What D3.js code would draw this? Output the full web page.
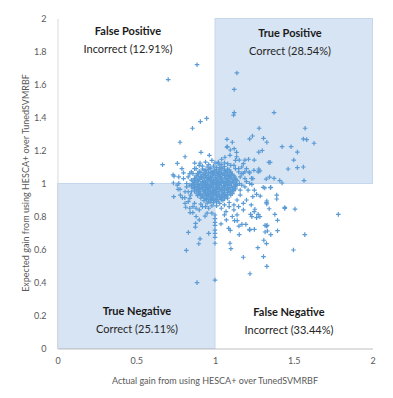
<!DOCTYPE html>
<html>
<head>
<meta charset="utf-8">
<script src="https://cdn.jsdelivr.net/npm/d3@7"></script>
<style>
  body { margin: 0; background: #fff; }
  svg { display: block; font-family: Lato, "Open Sans", sans-serif; }
</style>
</head>
<body>
<svg id="chart" width="393" height="398"></svg>
<script>
// axis ticks
var xTicks = [0, 0.5, 1, 1.5, 2];
var yTicks = [0, 0.2, 0.4, 0.6, 0.8, 1, 1.2, 1.4, 1.6, 1.8, 2];

// quadrants
var quadrants = [
  { name: "False Positive", note: "Incorrect (12.91%)", x0: 0, x1: 1, y0: 1, y1: 2, shaded: false },
  { name: "True Positive", note: "Correct (28.54%)", x0: 1, x1: 2, y0: 1, y1: 2, shaded: true },
  { name: "True Negative", note: "Correct (25.11%)", x0: 0, x1: 1, y0: 0, y1: 1, shaded: true },
  { name: "False Negative", note: "Incorrect (33.44%)", x0: 1, x1: 2, y0: 0, y1: 1, shaded: false }
];

// dense middle of the cloud (actual gain, expected gain)
var core = [
  [0.95,1.10],[0.99,1.105],[1.03,1.098],[1.06,1.103],
  [0.92,1.088],[0.97,1.092],[1.01,1.086],[1.04,1.091],[1.08,1.087],
  [0.90,1.074],[0.94,1.078],[0.98,1.072],[1.00,1.077],[1.03,1.073],[1.07,1.076],[1.10,1.071],
  [0.89,1.061],[0.93,1.058],[0.96,1.063],[0.99,1.057],[1.02,1.062],[1.05,1.059],[1.08,1.064],[1.11,1.056],
  [0.88,1.046],[0.91,1.043],[0.94,1.048],[0.97,1.044],[1.00,1.047],[1.03,1.042],[1.06,1.049],[1.09,1.044],[1.12,1.047],
  [0.87,1.031],[0.90,1.028],[0.93,1.033],[0.96,1.029],[0.98,1.034],[1.01,1.027],[1.04,1.032],[1.07,1.03],[1.10,1.033],[1.13,1.028],
  [0.86,1.014],[0.89,1.017],[0.92,1.012],[0.95,1.016],[0.98,1.013],[1.00,1.018],[1.03,1.014],[1.05,1.011],[1.08,1.016],[1.11,1.013],[1.14,1.017],
  [0.86,0.999],[0.88,1.003],[0.91,0.998],[0.94,1.002],[0.97,0.997],[0.99,1.001],[1.02,0.998],[1.04,1.003],[1.07,0.999],[1.10,1.002],[1.13,0.998],
  [0.85,0.986],[0.88,0.983],[0.90,0.988],[0.93,0.984],[0.96,0.987],[0.98,0.982],[1.01,0.986],[1.03,0.989],[1.06,0.984],[1.09,0.987],[1.12,0.983],[1.14,0.988],
  [0.86,0.971],[0.89,0.968],[0.92,0.973],[0.95,0.969],[0.97,0.972],[1.00,0.967],[1.02,0.971],[1.05,0.974],[1.08,0.969],[1.11,0.972],[1.13,0.967],
  [0.87,0.956],[0.90,0.953],[0.93,0.958],[0.96,0.954],[0.99,0.957],[1.01,0.952],[1.04,0.956],[1.07,0.959],[1.10,0.954],[1.12,0.957],
  [0.88,0.941],[0.91,0.938],[0.94,0.943],[0.97,0.939],[1.00,0.942],[1.03,0.937],[1.06,0.941],[1.09,0.944],[1.11,0.939],
  [0.89,0.926],[0.92,0.923],[0.95,0.928],[0.98,0.924],[1.01,0.927],[1.04,0.922],[1.07,0.926],[1.10,0.929],
  [0.91,0.911],[0.94,0.908],[0.97,0.913],[1.00,0.909],[1.03,0.912],[1.06,0.907],[1.08,0.911],
  [0.93,0.896],[0.96,0.893],[0.99,0.898],[1.02,0.894],[1.05,0.897],
  [0.95,0.881],[0.99,0.884],[1.03,0.879],
  [0.965,1.025],[1.015,1.005],[0.935,0.995],[1.045,0.965],[0.985,0.945],[1.025,1.055],[0.915,1.035],[1.075,1.015],
  [0.945,0.975],[1.055,0.935],[0.995,1.065],[1.085,1.045],[0.905,0.965],[1.035,0.915],[0.975,0.905],[1.065,0.995]
];

// points sitting between the core rows
var coreFill = [
  [0.97,1.095],[1.01,1.097],[1.05,1.094],
  [0.93,1.082],[0.96,1.084],[0.995,1.081],[1.025,1.083],[1.06,1.08],[1.09,1.083],
  [0.91,1.067],[0.945,1.069],[0.975,1.066],[1.01,1.068],[1.04,1.065],[1.065,1.069],[1.095,1.066],
  [0.895,1.052],[0.925,1.054],[0.955,1.051],[0.985,1.053],[1.015,1.05],[1.045,1.054],[1.075,1.052],[1.105,1.05],
  [0.885,1.038],[0.915,1.04],[0.945,1.037],[0.975,1.039],[1.005,1.036],[1.035,1.04],[1.065,1.038],[1.095,1.036],[1.125,1.039],
  [0.875,1.022],[0.905,1.024],[0.935,1.021],[0.97,1.023],[0.99,1.02],[1.02,1.024],[1.05,1.022],[1.085,1.021],[1.115,1.024],[1.135,1.02],
  [0.87,1.007],[0.895,1.009],[0.925,1.006],[0.955,1.008],[0.985,1.005],[1.01,1.009],[1.04,1.007],[1.06,1.005],[1.09,1.008],[1.12,1.006],
  [0.865,0.992],[0.89,0.994],[0.92,0.991],[0.95,0.993],[0.975,0.99],[1.005,0.994],[1.03,0.992],[1.055,0.99],[1.08,0.993],[1.105,0.991],[1.135,0.994],
  [0.87,0.977],[0.895,0.979],[0.915,0.976],[0.94,0.978],[0.965,0.975],[0.99,0.979],[1.015,0.977],[1.04,0.975],[1.07,0.978],[1.095,0.976],[1.125,0.979],
  [0.88,0.962],[0.905,0.964],[0.935,0.961],[0.96,0.963],[0.985,0.96],[1.005,0.964],[1.03,0.962],[1.06,0.96],[1.085,0.963],[1.115,0.961],
  [0.895,0.948],[0.925,0.95],[0.95,0.947],[0.975,0.949],[1.005,0.946],[1.02,0.95],[1.05,0.948],[1.08,0.946],[1.10,0.949],
  [0.905,0.933],[0.935,0.935],[0.96,0.932],[0.99,0.934],[1.02,0.931],[1.05,0.935],[1.08,0.933],
  [0.925,0.918],[0.955,0.92],[0.985,0.917],[1.015,0.919],[1.045,0.916],[1.07,0.92],
  [0.945,0.903],[0.975,0.905],[1.01,0.902],[1.04,0.904],
  [0.97,0.888],[1.01,0.89]
];

// sparser ring round the middle
var ring = [
  [0.911,1.189],[0.964,1.171],[0.871,1.124],[0.905,1.124],[0.80,1.065],[0.74,1.045],[0.736,1.003],
  [0.77,1.001],[0.738,0.92],[0.766,0.965],[0.778,0.965],[0.793,0.914],[0.808,0.914],[0.814,0.856],
  [0.842,0.824],[0.859,0.824],[0.937,0.802],[1.038,0.755],[1.072,0.779],[1.087,0.728],[1.124,0.775],
  [1.141,0.775],[1.152,0.742],[1.22,0.718],[1.226,0.813],[1.249,0.829],[1.274,0.813],[1.285,0.799],
  [1.327,0.742],[1.333,0.712],[1.38,0.813],[1.443,0.849],[1.327,0.884],[1.24,0.92],[1.264,0.934],
  [1.287,0.924],[1.316,0.973],[1.352,0.975],[1.20,1.011],[1.234,0.995],[1.18,1.062],[1.217,1.07],
  [1.247,1.08],[1.285,1.076],[1.342,1.128],[1.095,1.171],[1.137,1.162],[1.154,1.142],[1.19,1.142],
  [1.213,1.147],[1.249,1.142],[1.021,1.13],[1.042,1.147],[1.063,1.159],[1.078,1.223],[1.097,1.203],
  [1.137,1.189],[1.16,1.04],[1.17,0.99],[1.16,0.93],[1.18,0.88],[1.15,0.86],[1.12,0.84],[1.09,0.86],
  [1.07,0.83],[1.04,0.85],[0.96,0.85],[0.92,0.86],[0.90,0.84],[0.87,0.88],[0.84,0.91],[0.83,0.95],
  [0.82,1.00],[0.83,1.04],[0.85,1.07],[0.87,1.09],[0.90,1.11],[0.94,1.13],[0.98,1.14],[1.02,1.12],
  [1.06,1.125],[1.10,1.11],[1.13,1.09],[1.15,1.07],[1.19,1.03],[1.21,0.96],[1.20,0.90],[1.14,0.81],
  [1.11,0.80],[0.95,0.82],[0.88,0.80],[0.81,0.95],[0.80,1.03],[1.17,1.10],[1.24,1.03],[1.23,0.87],
  [0.84,1.06],[0.82,0.98],[0.845,0.93],[0.83,0.89],[0.86,0.86],[0.88,0.85],[0.91,0.875],[0.94,0.86],
  [0.98,0.865],[1.01,0.865],[1.06,0.87],[1.09,0.885],[1.12,0.87],[1.14,0.9],[1.16,0.96],[1.155,1.0],
  [1.17,1.06],[1.15,1.09],[1.12,1.11],[1.08,1.12],[1.04,1.115],[1.00,1.125],[0.96,1.115],[0.92,1.105],
  [0.88,1.09],[0.86,1.06],[0.85,1.02],[0.84,0.99],[0.85,0.95],[0.79,1.09],[0.77,1.04],[0.76,0.99],
  [0.78,0.93],[0.81,0.88],[0.84,0.85],[1.19,0.98],[1.22,1.0],[1.20,1.09],[1.18,1.12],[1.13,1.14],
  [1.25,0.96],[1.18,0.84],[1.06,0.81],[0.98,0.82],[0.9,0.78]
];

// scattered outliers
var outliers = [
  [0.886,1.72],[0.703,1.63],[0.947,1.395],[0.907,1.375],[0.857,1.335],[0.778,1.25],[1.139,1.67],
  [1.122,1.57],[1.122,1.43],[1.118,1.415],[1.28,1.335],[1.076,1.268],[1.11,1.25],[1.22,1.27],
  [1.238,1.288],[1.076,1.221],[1.122,1.211],[1.375,1.43],[1.572,1.335],[1.308,1.274],[1.329,1.25],
  [1.561,1.27],[1.582,1.266],[1.629,1.244],[1.426,1.223],[1.483,1.223],[1.523,1.19],[1.278,1.19],
  [1.30,1.20],[1.50,1.142],[1.35,1.128],[1.464,1.088],[1.523,1.096],[1.561,1.10],[1.274,1.071],
  [1.278,1.088],[1.346,1.039],[1.375,1.031],[1.325,1.027],[1.411,1.018],[1.426,1.003],[1.565,1.018],
  [1.22,1.064],[1.232,1.031],[1.19,1.071],[1.306,0.977],[1.354,0.977],[1.392,0.93],[1.392,0.906],
  [1.329,0.894],[1.329,0.876],[1.443,0.855],[1.508,0.845],[1.344,0.847],[1.783,0.813],[1.57,0.69],
  [1.498,0.597],[1.329,0.498],[1.222,0.453],[1.18,0.553],[1.308,0.557],[1.272,0.611],[1.095,0.638],
  [1.101,0.605],[1.31,0.656],[1.327,0.636],[1.397,0.714],[1.354,0.69],[1.318,0.706],[1.318,0.746],
  [1.331,0.746],[1.397,0.777],[1.154,0.69],[1.097,0.716],[1.0,0.809],[1.0,0.787],[1.0,0.765],
  [1.0,0.746],[1.0,0.718],[1.0,0.698],[1.0,0.674],[1.0,0.638],[1.0,0.415],[0.886,0.399],[0.818,0.595],
  [0.831,0.704],[0.875,0.736],[0.905,0.665],[0.897,0.635],[0.96,0.698],[1.253,0.844],[1.22,0.722],
  [1.25,0.722],[1.171,0.752],[1.196,0.752],[1.234,0.799],[1.264,0.793],[0.60,1.0],[0.667,1.114],
  [0.761,1.122],[0.81,1.162],[0.734,1.052],[0.877,0.758]
];

var points = core.concat(coreFill, ring, outliers);

var svg = d3.select("#chart");

var x = d3.scaleLinear().domain([0, 2]).range([57.5, 372.5]);
var y = d3.scaleLinear().domain([0, 2]).range([348.5, 18.5]);

// shaded quadrants
svg.append("g")
  .selectAll("rect")
  .data(quadrants.filter(d => d.shaded))
  .enter()
  .append("rect")
  .attr("x", d => x(d.x0))
  .attr("y", d => y(d.y1))
  .attr("width", d => x(d.x1) - x(d.x0))
  .attr("height", d => y(d.y0) - y(d.y1))
  .attr("fill", "#d7e4f3")
  .attr("stroke", "#c5d7ec")
  .attr("stroke-width", 1);

// axes
var xAxis = svg.append("g")
  .attr("transform", "translate(0," + y(0) + ")")
  .call(d3.axisBottom(x).tickValues(xTicks).tickSize(0).tickPadding(9).tickFormat(d3.format("")));
xAxis.select(".domain").attr("stroke", "#bfbfbf");

var yAxis = svg.append("g")
  .attr("transform", "translate(" + x(0) + ",0)")
  .call(d3.axisLeft(y).tickValues(yTicks).tickSize(0).tickPadding(11).tickFormat(d3.format("")));
yAxis.select(".domain").attr("stroke", "#d9d9d9");

svg.selectAll(".tick text")
  .attr("fill", "#595959")
  .style("font-size", "9px")
  .style("font-family", "Lato, sans-serif");

// points as plus markers
svg.append("g")
  .selectAll("path")
  .data(points)
  .enter()
  .append("path")
  .attr("d", d => {
    let px = x(d[0]), py = y(d[1]);
    return "M" + (px - 2.3) + "," + py + "H" + (px + 2.3) + "M" + px + "," + (py - 2.3) + "V" + (py + 2.3);
  })
  .attr("stroke", "#5b9bd5")
  .attr("stroke-width", 1.2)
  .attr("fill", "none");

// quadrant labels
var titleY = { "False Positive": 35, "True Positive": 37, "True Negative": 315, "False Negative": 316 };
var titleX = { "False Positive": 128, "True Positive": 290, "True Negative": 137, "False Negative": 289 };

var labels = svg.append("g")
  .selectAll("g")
  .data(quadrants)
  .enter()
  .append("g");

labels.append("text")
  .attr("x", d => titleX[d.name])
  .attr("y", d => titleY[d.name])
  .attr("text-anchor", "middle")
  .attr("fill", "#1a1a1a")
  .style("font-size", "11px")
  .style("font-weight", "bold")
  .text(d => d.name);

labels.append("text")
  .attr("x", d => titleX[d.name])
  .attr("y", d => titleY[d.name] + 18)
  .attr("text-anchor", "middle")
  .attr("fill", "#262626")
  .style("font-size", "11px")
  .text(d => d.note);

// axis titles
svg.append("text")
  .attr("x", 215)
  .attr("y", 384)
  .attr("text-anchor", "middle")
  .attr("fill", "#595959")
  .style("font-size", "9px")
  .text("Actual gain from using HESCA+ over TunedSVMRBF");

svg.append("text")
  .attr("transform", "translate(29,183) rotate(-90)")
  .attr("text-anchor", "middle")
  .attr("fill", "#595959")
  .style("font-size", "9px")
  .text("Expected gain from using HESCA+ over TunedSVMRBF");
</script>
</body>
</html>
